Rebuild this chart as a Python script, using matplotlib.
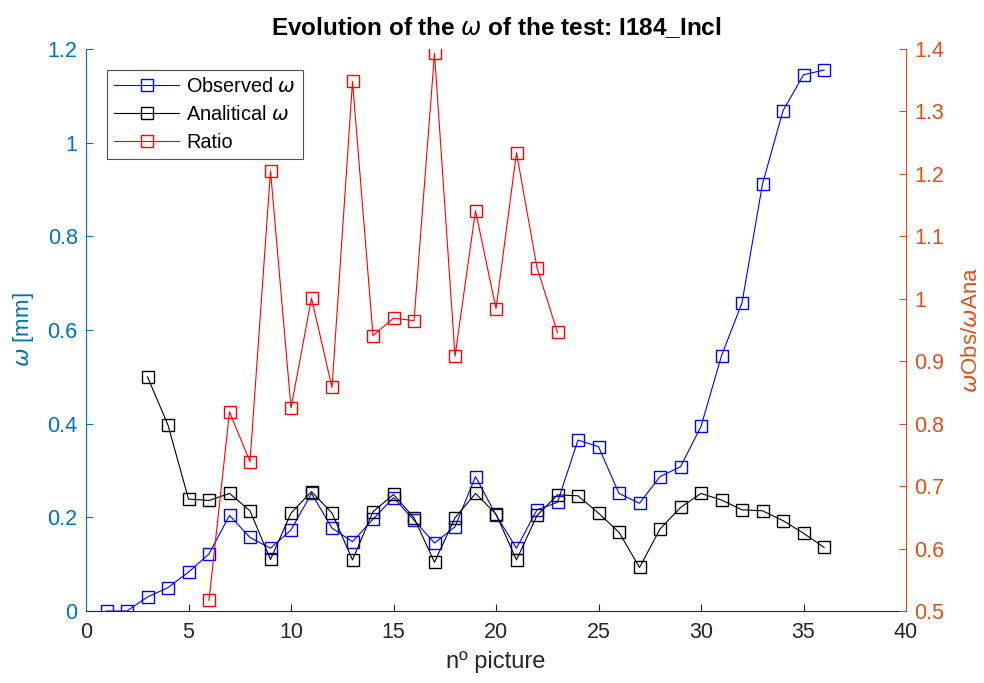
import matplotlib
matplotlib.use("Agg")
import matplotlib.pyplot as plt

plt.rcParams['font.family'] = ['Liberation Sans', 'DejaVu Sans']
plt.rcParams['mathtext.fontset'] = 'dejavusans'

# picture index
x_obs = list(range(1, 37))
x_ana = list(range(3, 37))
x_ratio = list(range(6, 24))

# observed opening [mm]
w_obs = [0.0, 0.0, 0.03, 0.05, 0.083, 0.122, 0.204, 0.157, 0.134, 0.173,
         0.251, 0.177, 0.148, 0.196, 0.242, 0.194, 0.145, 0.18, 0.287, 0.205,
         0.134, 0.216, 0.232, 0.365, 0.351, 0.251, 0.23, 0.287, 0.308, 0.394,
         0.545, 0.658, 0.912, 1.068, 1.145, 1.155]

# analytical opening [mm]
w_ana = [0.5, 0.397, 0.239, 0.236, 0.251, 0.214, 0.11, 0.209, 0.255, 0.209,
         0.109, 0.212, 0.249, 0.199, 0.104, 0.199, 0.251, 0.207, 0.109, 0.204,
         0.248, 0.246, 0.209, 0.168, 0.093, 0.175, 0.221, 0.251, 0.237, 0.216,
         0.214, 0.193, 0.166, 0.136]

# observed / analytical
ratio = [0.517, 0.819, 0.739, 1.205, 0.825, 1.001, 0.858, 1.348, 0.941, 0.969,
         0.965, 1.393, 0.908, 1.141, 0.984, 1.234, 1.05, 0.946]

c_left = '#0072BD'
c_right = '#D95319'
c_axis = '#262626'

fig = plt.figure(figsize=(9.84, 6.83), dpi=100)
ax = fig.add_axes([86/984, 1 - 611/683, 820/984, 562/683])
ax2 = ax.twinx()

mk = dict(marker='s', markersize=8, markerfacecolor='none', linewidth=0.8,
          markeredgewidth=1.0)
l1, = ax.plot(x_obs, w_obs, color='#0000FF', label=r'Observed $\omega$', **mk)
l2, = ax.plot(x_ana, w_ana, color='#000000', label=r'Analitical $\omega$', **mk)
l3, = ax2.plot(x_ratio, ratio, color='#FF0000', label='Ratio', **mk)

ax.set_xlim(0, 40)
ax.set_ylim(0, 1.2)
ax2.set_ylim(0.5, 1.4)
ax.set_xticks(range(0, 41, 5))
ax.set_yticks([0, 0.2, 0.4, 0.6, 0.8, 1.0, 1.2])
ax.set_yticklabels(['0', '0.2', '0.4', '0.6', '0.8', '1', '1.2'])
ax2.set_yticks([0.5, 0.6, 0.7, 0.8, 0.9, 1.0, 1.1, 1.2, 1.3, 1.4])
ax2.set_yticklabels(['0.5', '0.6', '0.7', '0.8', '0.9', '1', '1.1', '1.2', '1.3', '1.4'])

for a in (ax, ax2):
    a.spines['top'].set_visible(False)
ax.spines['right'].set_visible(False)
ax2.spines['left'].set_visible(False)
ax2.spines['bottom'].set_visible(False)
ax.spines['left'].set_color(c_left)
ax2.spines['right'].set_color(c_right)
ax.spines['bottom'].set_color(c_axis)

ax.tick_params(axis='y', direction='in', colors=c_left, labelsize=15.5, length=5,
               pad=6)
ax.tick_params(axis='x', direction='in', colors=c_axis, labelsize=15.5, length=5,
               pad=8)
ax2.tick_params(axis='y', direction='in', colors=c_right, labelsize=15.5, length=5,
                pad=6)

ax.set_xlabel('nº picture', fontsize=17, color=c_axis, labelpad=6)
ax.set_ylabel(r'$\omega$ [mm]', fontsize=16, color=c_left, labelpad=8)
ax2.set_ylabel(r'$\omega$Obs/$\omega$Ana', fontsize=16, color=c_right, labelpad=12)
ax.set_title(r'Evolution of the $\omega$ of the test: I184_Incl', fontsize=17.5,
             fontweight='bold', color='black', pad=10)

leg = ax2.legend(handles=[l1, l2, l3], loc='upper left',
                 bbox_to_anchor=((107 - 86) / 820, (611 - 70) / 562),
                 borderaxespad=0, fontsize=14.3, frameon=True,
                 fancybox=False, edgecolor='#262626', handlelength=3.3,
                 borderpad=0.35, labelspacing=0.45, handletextpad=0.35)
leg.get_frame().set_linewidth(0.8)

fig.savefig('out.png', dpi=100)
